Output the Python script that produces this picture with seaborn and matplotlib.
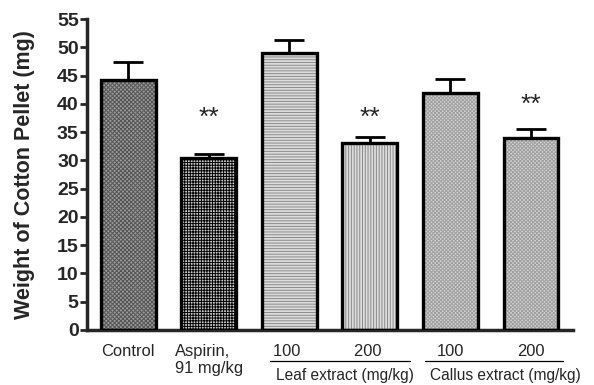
import pandas as pd
import matplotlib.pyplot as plt
import seaborn as sns
from matplotlib.patches import Rectangle
import matplotlib.transforms as mtransforms

# Data
groups = ['Control', 'Aspirin,\n91 mg/kg', '100 ', '200 ', '100', '200']
means = [44.2, 30.4, 49.0, 33.1, 41.9, 33.9]
sem = [3.2, 0.7, 2.3, 1.1, 2.5, 1.7]
star_groups = ['Aspirin,\n91 mg/kg', '200 ', '200']
star_y = [37.6, 37.6, 39.8]

face_colors = ['#9a9a9a', '#c8c8c8', '#dcdcdc', '#dcdcdc', '#d2d2d2', '#d2d2d2']
hatch_colors = ['#555555', '#000000', '#8a8a8a', '#8a8a8a', '#a0a0a0', '#a0a0a0']
hatches = ['xxxxxxxx', '++++++', '------', '||||||', 'xxxxxxxxx', 'xxxxxxxxx']

data = pd.DataFrame({'group': groups, 'weight': means})

sns.set_style('ticks')
plt.rcParams['font.family'] = ['Liberation Sans', 'DejaVu Sans']
plt.rcParams['hatch.linewidth'] = 0.7

fig = plt.figure(figsize=(5.94, 3.85), dpi=100)
ax = fig.add_axes([0.1465, 0.1429, 0.818, 0.8077])

sns.barplot(data=data, x='group', y='weight', hue='group', palette=face_colors,
            legend=False, errorbar=None, width=0.68, linewidth=0, ax=ax)

# hatching + thick black outline on each bar
for p, h, hc in zip(ax.patches, hatches, hatch_colors):
    p.set_hatch(h)
    p.set_edgecolor(hc)
    p.set_linewidth(0)
    ax.add_patch(Rectangle(p.get_xy(), p.get_width(), p.get_height(),
                           fill=False, edgecolor='black', linewidth=2.4, zorder=3))

# upper error bars only
ax.errorbar(range(len(groups)), means, yerr=[[0] * len(sem), sem], fmt='none',
            ecolor='black', elinewidth=2, capsize=10.5, capthick=2, zorder=2)

for g, y in zip(star_groups, star_y):
    ax.text(groups.index(g), y, '**', ha='center', va='center', fontsize=19)

ax.set_ylim(0, 55)
ax.set_xlim(-0.51, 5.52)
ax.set_yticks(range(0, 56, 5))
ax.tick_params(axis='y', direction='out', length=5, width=2, labelsize=14, pad=1)
for lab in ax.get_yticklabels():
    lab.set_fontweight('bold')
ax.tick_params(axis='x', length=0, labelsize=11.9, pad=10)
for lab in ax.get_xticklabels():
    lab.set_multialignment('left')
ax.set_xlabel('')
ax.set_ylabel('Weight of Cotton Pellet (mg)', fontsize=15.5, fontweight='bold')
ax.yaxis.set_label_coords(-0.108, 0.5)
sns.despine(ax=ax)
for s in ['left', 'bottom']:
    ax.spines[s].set_linewidth(2.5)

# group brackets under the x labels
trans = mtransforms.blended_transform_factory(ax.transData, ax.transAxes)
ax.plot([1.76, 3.5], [-0.1, -0.1], color='black', lw=0.9, transform=trans, clip_on=False)
ax.plot([3.68, 5.4], [-0.1, -0.1], color='black', lw=0.9, transform=trans, clip_on=False)
ax.text(2.69, -0.145, 'Leaf extract (mg/kg)', ha='center', va='center', fontsize=11.2, transform=trans)
ax.text(4.68, -0.145, 'Callus extract (mg/kg)', ha='center', va='center', fontsize=11.2, transform=trans)

plt.savefig('out.png', dpi=100)
